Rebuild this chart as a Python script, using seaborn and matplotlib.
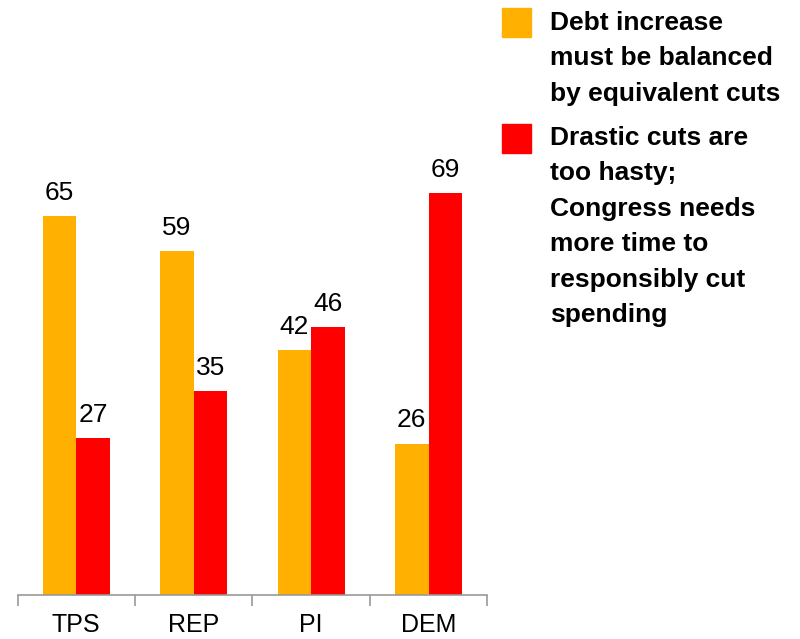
import pandas as pd
import matplotlib.pyplot as plt
import seaborn as sns
from matplotlib.patches import Rectangle

groups = ["TPS", "REP", "PI", "DEM"]
balanced = [65, 59, 42, 26]
too_hasty = [27, 35, 46, 69]
series = ["Debt increase\nmust be balanced\nby equivalent cuts",
          "Drastic cuts are\ntoo hasty;\nCongress needs\nmore time to\nresponsibly cut\nspending"]
colors = ["#FFB000", "#FF0000"]

df = pd.DataFrame({
    "group": groups * 2,
    "value": balanced + too_hasty,
    "series": [series[0]] * 4 + [series[1]] * 4,
})

sns.set_style("white")
plt.rcParams["font.family"] = ["Liberation Sans", "DejaVu Sans"]
plt.rcParams["text.color"] = "black"
plt.rcParams["xtick.color"] = "#999999"
plt.rcParams["xtick.labelcolor"] = "black"

fig = plt.figure(figsize=(8, 6.39), dpi=100)
ax = fig.add_axes([0.022, 0.069, 0.587, 0.925])

sns.barplot(data=df, x="group", y="value", hue="series", palette=colors,
            width=0.57, gap=0, saturation=1, linewidth=0, legend=False, ax=ax)

for c in ax.containers:
    ax.bar_label(c, padding=8, fontsize=19, color="black")

ax.set_xlim(-0.5, 3.5)
ax.set_ylim(0, 101.5)
ax.set_xlabel("")
ax.set_ylabel("")
ax.set_yticks([])
for s in ["top", "right", "left"]:
    ax.spines[s].set_visible(False)
ax.spines["bottom"].set_color("#999999")
ax.spines["bottom"].set_linewidth(1.2)
ax.set_xticks([-0.5, 0.5, 1.5, 2.5, 3.5], minor=True)
ax.tick_params(axis="x", which="minor", bottom=True, length=8,
               color="#999999", width=1.2)
ax.tick_params(axis="x", which="major", length=0, labelsize=18, pad=13,
               labelcolor="black")

# legend drawn by hand
sq_w, sq_h = 29 / 800, 29 / 639
fig.patches.append(Rectangle((502 / 800, 1 - 37 / 639), sq_w, sq_h,
                             transform=fig.transFigure, color=colors[0]))
fig.patches.append(Rectangle((502 / 800, 1 - 153 / 639), sq_w, sq_h,
                             transform=fig.transFigure, color=colors[1]))
fig.text(550 / 800, 1 - 11 / 639, series[0], fontsize=19, fontweight="bold",
         va="top", ha="left", linespacing=1.6)
fig.text(550 / 800, 1 - 126 / 639, series[1], fontsize=19, fontweight="bold",
         va="top", ha="left", linespacing=1.6)

fig.savefig("out.png", dpi=100)
